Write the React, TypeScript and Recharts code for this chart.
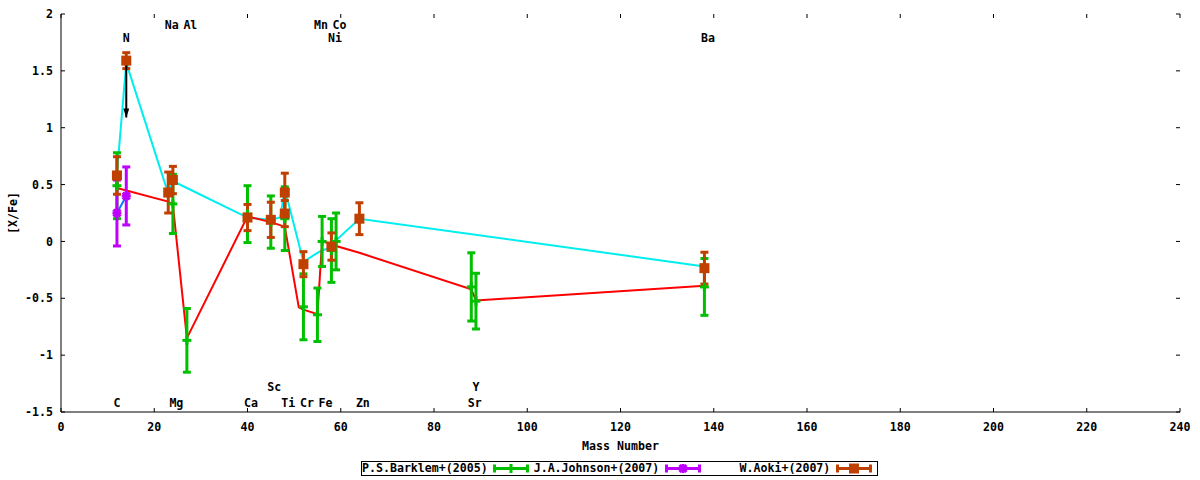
import React from "react";
import { ComposedChart, ErrorBar, Line, Scatter, XAxis, YAxis } from "recharts";

const FONT = "'DejaVu Sans Mono', 'Liberation Mono', monospace";
const FS = 11.6;

const W = 1200;
const H = 480;
const MARGIN = { top: 14, right: 20, bottom: 38, left: 16 };
const X_AXIS_H = 30;
const Y_AXIS_W = 45;
const PLOT_TOP = MARGIN.top;
const PLOT_BOTTOM = H - MARGIN.bottom - X_AXIS_H;
const PLOT_LEFT = MARGIN.left + Y_AXIS_W;
const PLOT_RIGHT = W - MARGIN.right;
const TICK_IN = 4;

const RED = "#ff0000";
const GREEN = "#00c000";
const BLUE = "#0080ff";
const PURPLE = "#c000ff";
const CYAN = "#00eeee";
const BROWN = "#c04000";

// axis ticks
const xTicks = [0, 20, 40, 60, 80, 100, 120, 140, 160, 180, 200, 220, 240];
const yTicks = [-1.5, -1, -0.5, 0, 0.5, 1, 1.5, 2];

// model curves: mass number and [X/Fe]
const redMass = [12, 23, 24, 27, 40, 45, 48, 51, 52, 55, 56, 58, 59, 64, 88, 89, 138];
const redVal = [0.47, 0.35, 0.32, -0.85, 0.22, 0.17, 0.13, -0.58, -0.6, -0.64, 0, -0.02, -0.04, -0.1, -0.42, -0.52, -0.39];

const cyanMass = [12, 14, 23, 24, 27, 40, 45, 47, 48, 52, 55, 56, 58, 59, 64, 138];
const cyanVal = [0.6, 1.57, 0.42, 0.53, 0.47, 0.21, 0.19, 0.21, 0.46, -0.18, -0.1, -0.08, -0.05, 0.01, 0.2, -0.22];

const blueMass = [12, 14];
const blueVal = [0.25, 0.4];

// observations
const barklemMass = [12, 24, 27, 40, 45, 48, 52, 55, 56, 58, 59, 88, 89, 138];
const barklemVal = [0.49, 0.33, -0.87, 0.24, 0.17, 0.2, -0.575, -0.645, 0, -0.08, 0, -0.4, -0.525, -0.4];
const barklemErr = [0.29, 0.26, 0.28, 0.25, 0.23, 0.28, 0.29, 0.235, 0.22, 0.28, 0.25, 0.3, 0.245, 0.25];

const johnsonMass = [12, 14];
const johnsonVal = [0.25, 0.4];
const johnsonErr = [0.29, 0.255];

const aokiMass = [12, 14, 23, 24, 40, 45, 48, 48, 52, 58, 64, 138];
const aokiVal = [0.58, 1.59, 0.43, 0.54, 0.21, 0.19, 0.43, 0.245, -0.2, -0.045, 0.2, -0.235];
const aokiErr = [0.165, 0.07, 0.18, 0.12, 0.115, 0.155, 0.17, 0.115, 0.11, 0.12, 0.14, 0.14];

// upper limit on N
const limitMass = [14, 14];
const limitVal = [1.59, 1.09];

// element labels
const labelNames = ["C", "N", "Na", "Mg", "Al", "Ca", "Sc", "Ti", "Cr", "Mn", "Fe", "Co", "Ni", "Zn", "Sr", "Y", "Ba"];
const labelMass = [12, 14, 23, 24, 27, 40, 45, 48, 52, 55, 56, 59, 58, 64, 88, 89, 138];
const labelRow = [-1.42, 1.79, 1.9, -1.42, 1.9, -1.42, -1.28, -1.42, -1.42, 1.9, -1.42, 1.9, 1.79, -1.42, -1.42, -1.28, 1.79];

const legendNames = ["P.S.Barklem+(2005)", "J.A.Johnson+(2007)", "W.Aoki+(2007)"];
const legendColors = [GREEN, PURPLE, BROWN];
const legendMarks = ["plus", "star", "square"];

const pts = (xs: number[], ys: number[], es?: number[]) =>
  xs.map((x, i) => ({ x, y: ys[i], e: es ? es[i] : 0 }));

const redData = pts(redMass, redVal);
const cyanData = pts(cyanMass, cyanVal);
const blueData = pts(blueMass, blueVal);
const barklemData = pts(barklemMass, barklemVal, barklemErr);
const johnsonData = pts(johnsonMass, johnsonVal, johnsonErr);
const aokiData = pts(aokiMass, aokiVal, aokiErr);
const limitData = pts(limitMass, limitVal);
const labelData = labelNames.map((name, i) => ({ name, x: labelMass[i], y: labelRow[i] }));

const textProps = { fontFamily: FONT, fontSize: FS, fontWeight: "bold", fill: "#000" };

// tick label plus gnuplot-style inward ticks on both bottom and top edges
const XTick = (p: any) => (
  <g>
    <text x={p.x} y={p.y} dy="0.71em" textAnchor="middle" {...textProps}>
      {p.payload.value}
    </text>
    <line x1={p.x} x2={p.x} y1={PLOT_BOTTOM} y2={PLOT_BOTTOM - TICK_IN} stroke="#000" />
    <line x1={p.x} x2={p.x} y1={PLOT_TOP} y2={PLOT_TOP + TICK_IN} stroke="#000" />
  </g>
);

const YTick = (p: any) => (
  <g>
    <text x={p.x} y={p.y} dy="0.355em" textAnchor="end" {...textProps}>
      {p.payload.value}
    </text>
    <line x1={PLOT_LEFT} x2={PLOT_LEFT + TICK_IN} y1={p.y} y2={p.y} stroke="#000" />
    <line x1={PLOT_RIGHT} x2={PLOT_RIGHT - TICK_IN} y1={p.y} y2={p.y} stroke="#000" />
  </g>
);

function Mark({ kind, color, cx, cy }: { kind: string; color: string; cx: number; cy: number }) {
  const r = 4.5;
  if (kind === "square") {
    return <rect x={cx - 5} y={cy - 5} width={10} height={10} fill={color} />;
  }
  return (
    <g stroke={color} strokeWidth={3}>
      <line x1={cx - r} x2={cx + r} y1={cy} y2={cy} />
      <line x1={cx} x2={cx} y1={cy - r} y2={cy + r} />
      {kind === "star" && (
        <>
          <line x1={cx - 3.5} x2={cx + 3.5} y1={cy - 3.5} y2={cy + 3.5} />
          <line x1={cx - 3.5} x2={cx + 3.5} y1={cy + 3.5} y2={cy - 3.5} />
        </>
      )}
    </g>
  );
}

const shapeFor = (kind: string, color: string) => (p: any) =>
  <Mark kind={kind} color={color} cx={p.cx} cy={p.cy} />;

const ElementLabel = (p: any) => (
  <text x={p.cx - 3.5} y={p.cy} dominantBaseline="central" {...textProps}>
    {p.payload.name}
  </text>
);

const ArrowHead = (p: any) =>
  p.index === limitData.length - 1 ? (
    <path key="head" d={`M${p.cx - 3},${p.cy - 9} L${p.cx + 3},${p.cy - 9} L${p.cx},${p.cy} Z`} fill="#000" />
  ) : (
    <g key={`d${p.index}`} />
  );

function LegendSample({ color, kind }: { color: string; kind: string }) {
  return (
    <svg width={36} height={13} style={{ display: "block" }}>
      <line x1={0} x2={36} y1={6.5} y2={6.5} stroke={color} strokeWidth={3} />
      <line x1={1.5} x2={1.5} y1={2.5} y2={10.5} stroke={color} strokeWidth={3} />
      <line x1={34.5} x2={34.5} y1={2.5} y2={10.5} stroke={color} strokeWidth={3} />
      <Mark kind={kind} color={color} cx={18} cy={6.5} />
    </svg>
  );
}

export default function App() {
  return (
    <div style={{ position: "absolute", left: 0, top: 0, width: W, height: H, background: "#fff" }}>
      <ComposedChart width={W} height={H} margin={MARGIN}>
        <XAxis
          xAxisId="x"
          dataKey="x"
          type="number"
          domain={[0, 240]}
          ticks={xTicks}
          interval={0}
          allowDataOverflow
          tickLine={false}
          axisLine={{ stroke: "#000" }}
          tick={XTick}
          tickSize={6}
          tickMargin={5}
          height={X_AXIS_H}
          label={{
            content: (lp: any) => (
              <text
                x={lp.viewBox.x + lp.viewBox.width / 2}
                y={lp.viewBox.y + 34}
                textAnchor="middle"
                dominantBaseline="central"
                {...textProps}
              >
                Mass Number
              </text>
            ),
          }}
        />
        <XAxis
          xAxisId="xt"
          type="number"
          domain={[0, 240]}
          ticks={xTicks}
          allowDataOverflow
          orientation="top"
          mirror
          height={0}
          tick={false}
          tickLine={false}
          axisLine={{ stroke: "#000" }}
        />
        <YAxis
          yAxisId="y"
          dataKey="y"
          type="number"
          domain={[-1.5, 2]}
          ticks={yTicks}
          interval={0}
          allowDataOverflow
          tickLine={false}
          axisLine={{ stroke: "#000" }}
          tick={YTick}
          tickSize={6}
          tickMargin={2}
          width={Y_AXIS_W}
          label={{
            content: (lp: any) => {
              const cx = lp.viewBox.x - 3;
              const cy = lp.viewBox.y + lp.viewBox.height / 2;
              return (
                <text
                  x={cx}
                  y={cy}
                  transform={`rotate(-90, ${cx}, ${cy})`}
                  textAnchor="middle"
                  dominantBaseline="central"
                  {...textProps}
                >
                  [X/Fe]
                </text>
              );
            },
          }}
        />
        <YAxis
          yAxisId="yr"
          type="number"
          domain={[-1.5, 2]}
          ticks={yTicks}
          allowDataOverflow
          orientation="right"
          mirror
          width={0}
          tick={false}
          tickLine={false}
          axisLine={{ stroke: "#000" }}
        />

        <Line xAxisId="x" yAxisId="y" data={cyanData} dataKey="y" type="linear" stroke={CYAN} strokeWidth={2} dot={false} activeDot={false} isAnimationActive={false} />
        <Line xAxisId="x" yAxisId="y" data={redData} dataKey="y" type="linear" stroke={RED} strokeWidth={2} dot={false} activeDot={false} isAnimationActive={false} />
        <Line xAxisId="x" yAxisId="y" data={blueData} dataKey="y" type="linear" stroke={BLUE} strokeWidth={2} dot={false} activeDot={false} isAnimationActive={false} />

        <Scatter xAxisId="x" yAxisId="y" data={barklemData} dataKey="y" shape={shapeFor("plus", GREEN)} isAnimationActive={false}>
          <ErrorBar dataKey="e" direction="y" width={4} stroke={GREEN} strokeWidth={3} isAnimationActive={false} />
        </Scatter>
        <Scatter xAxisId="x" yAxisId="y" data={johnsonData} dataKey="y" shape={shapeFor("star", PURPLE)} isAnimationActive={false}>
          <ErrorBar dataKey="e" direction="y" width={4} stroke={PURPLE} strokeWidth={3} isAnimationActive={false} />
        </Scatter>
        <Scatter xAxisId="x" yAxisId="y" data={aokiData} dataKey="y" shape={shapeFor("square", BROWN)} isAnimationActive={false}>
          <ErrorBar dataKey="e" direction="y" width={4} stroke={BROWN} strokeWidth={3} isAnimationActive={false} />
        </Scatter>

        <Line xAxisId="x" yAxisId="y" data={limitData} dataKey="y" type="linear" stroke="#000" strokeWidth={2} dot={ArrowHead} activeDot={false} isAnimationActive={false} />

        <Scatter xAxisId="x" yAxisId="y" data={labelData} dataKey="y" shape={ElementLabel} isAnimationActive={false} />
      </ComposedChart>

      <div
        style={{
          position: "absolute",
          left: 361,
          top: 461,
          width: 517,
          height: 15,
          boxSizing: "border-box",
          border: "1px solid #000",
          display: "flex",
          alignItems: "center",
          fontFamily: FONT,
          fontSize: FS,
          fontWeight: "bold",
          color: "#000",
          lineHeight: "13px",
        }}
      >
        {legendNames.map((name, i) => (
          <div key={name} style={{ display: "flex", alignItems: "center", width: 172 }}>
            <span style={{ width: 125, textAlign: "right", whiteSpace: "nowrap" }}>{name}</span>
            <span style={{ width: 6 }} />
            <LegendSample color={legendColors[i]} kind={legendMarks[i]} />
          </div>
        ))}
      </div>
    </div>
  );
}
